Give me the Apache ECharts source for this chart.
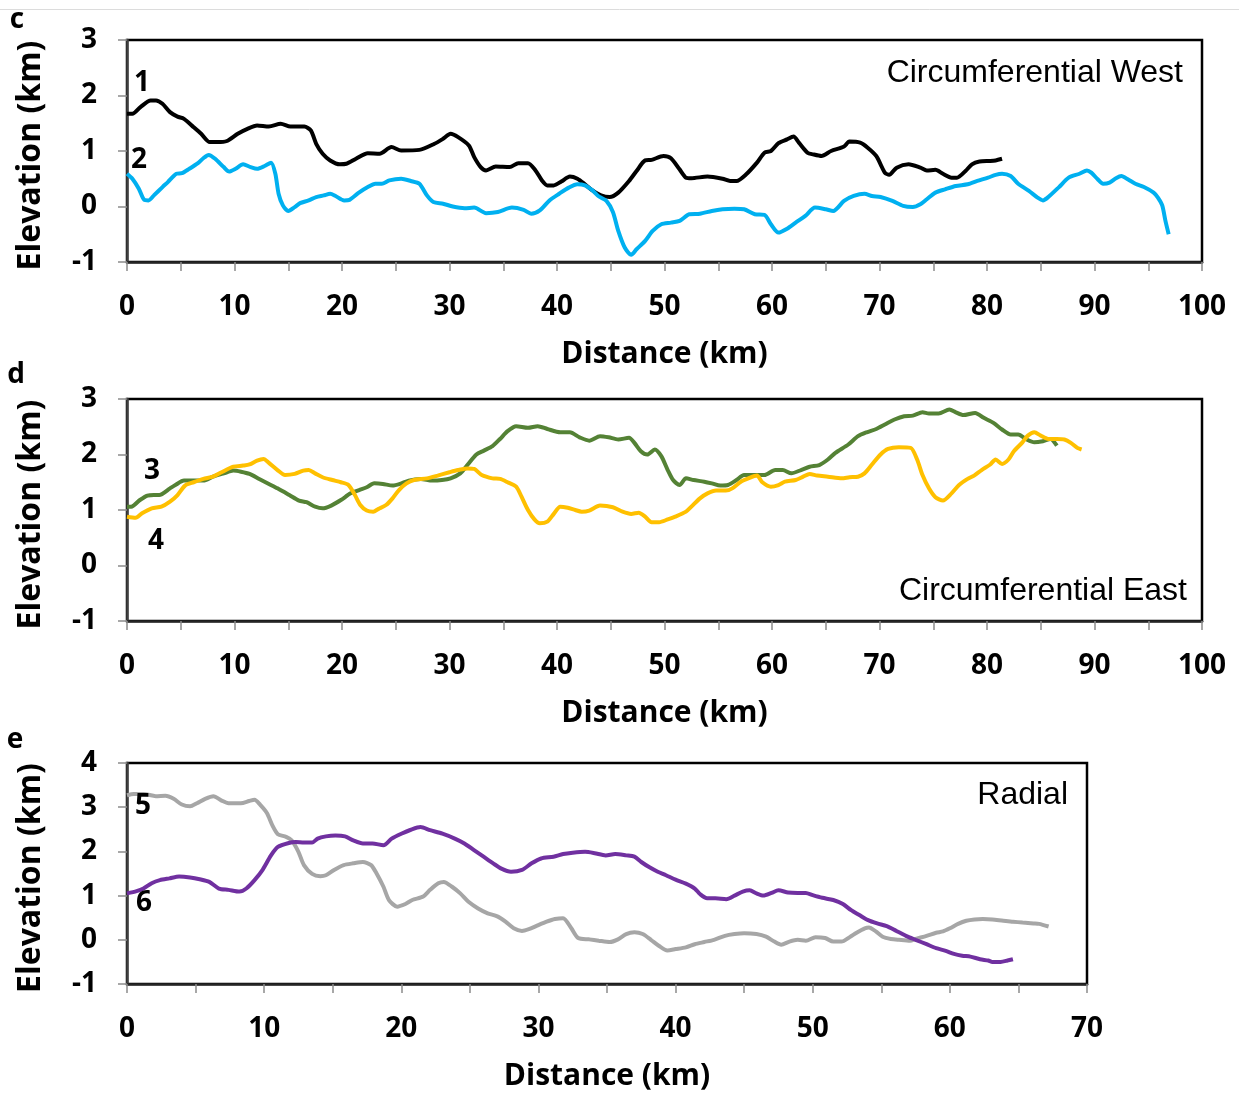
<!DOCTYPE html>
<html>
<head>
<meta charset="utf-8">
<script src="https://cdn.jsdelivr.net/npm/echarts@6/dist/echarts.min.js"></script>
<style>
  html, body { margin: 0; padding: 0; background: #fff; }
  #profiles { width: 1239px; height: 1096px; }
</style>
</head>
<body>
<div id="profiles"></div>
<script>
// distance (km), elevation (km)
var profile1 = [[0,1.67],[0.5,1.67],[1.25,1.79],[2.2,1.91],[2.7,1.91],[3.3,1.85],[4.0,1.70],[4.7,1.62],[5.3,1.58],[6.2,1.43],[6.9,1.31],[7.7,1.16],[8.4,1.16],[9.3,1.18],[10.3,1.31],[11.2,1.40],[12.1,1.46],[13.2,1.44],[14.3,1.49],[15.2,1.44],[16.5,1.44],[17.1,1.37],[17.6,1.13],[18.2,0.95],[18.9,0.83],[19.8,0.76],[20.4,0.77],[21.3,0.86],[22.4,0.96],[23.5,0.95],[24.6,1.07],[25.5,1.01],[27.2,1.02],[28.6,1.13],[29.4,1.22],[30.1,1.31],[30.8,1.25],[31.8,1.10],[32.3,0.89],[32.9,0.71],[33.4,0.65],[34.3,0.72],[35.6,0.71],[36.4,0.78],[37.3,0.78],[38.0,0.65],[38.6,0.47],[39.1,0.38],[39.7,0.38],[40.4,0.45],[41.2,0.54],[41.9,0.50],[42.6,0.40],[43.3,0.29],[44.1,0.20],[44.9,0.17],[45.7,0.25],[46.7,0.46],[47.4,0.64],[48.2,0.83],[48.8,0.84],[49.9,0.91],[50.6,0.87],[51.4,0.67],[52.0,0.52],[52.5,0.51],[54.0,0.54],[55.4,0.50],[56.1,0.46],[56.7,0.46],[57.6,0.58],[58.6,0.79],[59.3,0.97],[59.9,1.00],[60.6,1.14],[61.4,1.21],[62.0,1.26],[62.5,1.15],[63.3,0.97],[63.8,0.94],[64.6,0.91],[65.5,1.00],[66.7,1.08],[67.2,1.17],[68.2,1.15],[68.9,1.06],[69.7,0.91],[70.1,0.76],[70.5,0.61],[70.9,0.57],[71.6,0.70],[72.7,0.76],[73.8,0.70],[74.4,0.65],[75.2,0.66],[75.9,0.59],[76.7,0.52],[77.2,0.52],[78.0,0.64],[78.6,0.76],[79.3,0.81],[80.3,0.82],[80.8,0.83],[81.4,0.86]];

var profile2 = [[0,0.59],[0.5,0.50],[1.1,0.32],[1.6,0.12],[2.0,0.11],[2.5,0.20],[3.3,0.35],[3.8,0.44],[4.6,0.59],[5.1,0.60],[5.8,0.68],[6.6,0.78],[7.1,0.87],[7.6,0.93],[8.2,0.86],[9.0,0.71],[9.5,0.63],[10.1,0.68],[10.8,0.76],[11.5,0.71],[12.1,0.68],[12.8,0.73],[13.4,0.79],[13.8,0.59],[14.1,0.23],[14.5,0.02],[15.0,-0.08],[15.6,-0.01],[16.1,0.06],[16.9,0.11],[17.6,0.17],[18.3,0.20],[18.9,0.23],[19.4,0.19],[20.2,0.11],[20.7,0.12],[21.5,0.24],[22.4,0.35],[23.1,0.41],[23.7,0.41],[24.4,0.47],[25.5,0.50],[26.4,0.46],[27.2,0.41],[27.9,0.20],[28.5,0.08],[29.4,0.05],[30.3,0.00],[31.4,-0.03],[32.3,-0.02],[33.4,-0.12],[34.5,-0.10],[35.8,-0.02],[36.9,-0.06],[37.6,-0.13],[38.4,-0.07],[39.3,0.11],[40.2,0.23],[41.1,0.34],[41.9,0.40],[42.6,0.38],[43.3,0.29],[43.9,0.18],[44.6,0.10],[45.2,-0.10],[45.7,-0.44],[46.3,-0.74],[46.9,-0.87],[47.4,-0.77],[48.2,-0.62],[48.9,-0.44],[49.7,-0.32],[50.6,-0.29],[51.4,-0.26],[52.3,-0.14],[53.3,-0.13],[54.4,-0.08],[55.4,-0.05],[56.5,-0.04],[57.4,-0.05],[58.4,-0.14],[59.3,-0.15],[59.9,-0.32],[60.6,-0.47],[61.4,-0.40],[62.2,-0.29],[63.1,-0.17],[64.0,-0.02],[65.0,-0.05],[65.7,-0.08],[66.7,0.10],[67.6,0.19],[68.6,0.23],[69.3,0.19],[70.1,0.17],[71.2,0.10],[72.2,0.01],[73.1,-0.01],[73.8,0.04],[74.4,0.13],[75.2,0.25],[76.1,0.31],[77.1,0.37],[78.2,0.40],[79.1,0.46],[80.1,0.52],[80.8,0.57],[81.4,0.59],[82.2,0.55],[82.9,0.41],[83.9,0.28],[84.7,0.16],[85.2,0.11],[85.7,0.17],[86.7,0.35],[87.6,0.52],[88.6,0.59],[89.3,0.65],[89.7,0.61],[90.3,0.49],[90.8,0.41],[91.4,0.43],[92.0,0.51],[92.5,0.55],[93.1,0.49],[93.8,0.41],[94.6,0.35],[95.5,0.25],[95.9,0.16],[96.3,0.02],[96.6,-0.26],[96.9,-0.50]];

var profile3 = [[0,1.06],[0.4,1.06],[1.2,1.18],[1.9,1.26],[2.5,1.27],[3.0,1.27],[4.0,1.39],[4.5,1.45],[5.3,1.53],[6.2,1.53],[7.1,1.53],[8.0,1.60],[9.0,1.66],[9.9,1.71],[10.6,1.69],[11.4,1.65],[12.3,1.56],[13.2,1.47],[14.0,1.39],[15.1,1.27],[16.0,1.17],[16.7,1.14],[17.5,1.06],[18.2,1.03],[19.0,1.08],[19.9,1.18],[20.8,1.30],[21.6,1.36],[22.3,1.41],[23.0,1.48],[23.8,1.47],[24.7,1.44],[25.4,1.47],[26.2,1.53],[27.3,1.56],[28.4,1.53],[29.3,1.54],[30.1,1.57],[31.0,1.66],[31.7,1.82],[32.5,2.00],[33.2,2.07],[34.0,2.15],[34.7,2.28],[35.4,2.42],[36.2,2.51],[37.3,2.48],[38.2,2.51],[39.1,2.46],[40.3,2.40],[41.2,2.40],[42.1,2.31],[43.0,2.25],[44.0,2.33],[44.8,2.31],[45.7,2.27],[46.7,2.30],[47.2,2.21],[47.8,2.06],[48.4,2.00],[49.1,2.09],[49.7,1.97],[50.3,1.72],[50.8,1.54],[51.4,1.45],[52.0,1.57],[52.7,1.54],[53.7,1.51],[54.4,1.48],[55.2,1.44],[55.9,1.45],[56.7,1.54],[57.4,1.63],[58.4,1.63],[59.3,1.63],[60.3,1.72],[61.0,1.72],[61.8,1.66],[62.7,1.72],[63.5,1.78],[64.4,1.81],[65.2,1.91],[65.9,2.03],[67.1,2.18],[68.0,2.33],[68.8,2.40],[69.7,2.46],[70.5,2.54],[71.4,2.63],[72.3,2.69],[73.1,2.70],[74.0,2.76],[74.6,2.74],[75.5,2.74],[76.5,2.81],[77.1,2.76],[77.8,2.71],[78.9,2.75],[79.7,2.66],[80.6,2.57],[81.4,2.45],[82.2,2.36],[82.9,2.36],[83.7,2.27],[84.4,2.22],[85.2,2.24],[85.9,2.28],[86.5,2.16]];

var profile4 = [[0,0.88],[0.8,0.86],[1.4,0.94],[2.3,1.03],[3.2,1.06],[4.0,1.15],[4.7,1.27],[5.4,1.44],[6.2,1.50],[7.1,1.56],[8.0,1.60],[8.8,1.68],[9.9,1.78],[10.8,1.80],[11.4,1.82],[12.1,1.89],[12.7,1.92],[13.2,1.85],[14.0,1.72],[14.7,1.63],[15.6,1.65],[16.4,1.71],[16.9,1.72],[17.5,1.66],[18.2,1.59],[19.1,1.54],[19.9,1.50],[20.6,1.45],[21.2,1.27],[21.7,1.09],[22.3,0.99],[22.9,0.97],[23.4,1.02],[24.1,1.09],[24.7,1.21],[25.3,1.36],[26.0,1.48],[26.7,1.54],[27.9,1.57],[28.9,1.62],[30.0,1.68],[30.8,1.72],[31.7,1.75],[32.3,1.74],[33.0,1.63],[34.0,1.57],[34.7,1.56],[35.4,1.50],[36.2,1.42],[36.7,1.24],[37.3,1.00],[37.9,0.83],[38.4,0.76],[39.1,0.79],[39.7,0.93],[40.3,1.06],[41.0,1.04],[41.7,1.00],[42.3,0.97],[43.0,0.99],[44.0,1.08],[45.2,1.05],[46.1,0.97],[46.9,0.93],[47.6,0.95],[48.2,0.88],[48.8,0.78],[49.5,0.78],[50.3,0.83],[51.0,0.88],[52.0,0.97],[52.5,1.06],[53.3,1.21],[54.0,1.30],[54.8,1.35],[55.7,1.35],[56.3,1.39],[57.1,1.51],[57.8,1.57],[58.6,1.62],[59.1,1.50],[59.9,1.42],[60.6,1.45],[61.2,1.51],[62.2,1.54],[62.9,1.60],[63.5,1.65],[64.2,1.62],[65.2,1.60],[66.5,1.57],[67.2,1.59],[68.0,1.60],[68.6,1.66],[69.3,1.82],[70.1,2.00],[70.8,2.10],[71.8,2.13],[72.9,2.12],[73.5,1.91],[74.0,1.63],[74.6,1.39],[75.2,1.23],[75.9,1.17],[76.7,1.30],[77.4,1.45],[78.2,1.56],[78.8,1.62],[79.5,1.72],[80.3,1.82],[80.8,1.91],[81.4,1.83],[82.0,1.91],[82.5,2.06],[83.3,2.22],[83.8,2.34],[84.4,2.40],[85.0,2.34],[85.7,2.28],[86.5,2.28],[87.2,2.27],[87.8,2.21],[88.4,2.12],[88.8,2.09]];

var profile5 = [[0,3.27],[0.5,3.30],[1.2,3.30],[2.1,3.25],[2.8,3.26],[3.4,3.19],[4.0,3.06],[4.6,3.02],[5.1,3.09],[5.7,3.19],[6.3,3.25],[6.9,3.15],[7.4,3.09],[8.3,3.09],[8.9,3.14],[9.3,3.17],[9.7,3.06],[10.2,2.87],[10.6,2.59],[11.0,2.39],[11.6,2.33],[12.0,2.25],[12.5,1.99],[12.9,1.69],[13.5,1.49],[14.1,1.44],[14.5,1.46],[15.1,1.58],[15.8,1.69],[16.5,1.73],[17.2,1.76],[17.8,1.69],[18.2,1.50],[18.7,1.20],[19.1,0.90],[19.7,0.75],[20.3,0.81],[20.8,0.90],[21.6,0.98],[22.1,1.13],[22.7,1.28],[23.1,1.31],[23.7,1.20],[24.3,1.05],[24.9,0.86],[25.6,0.71],[26.3,0.60],[27.0,0.53],[27.6,0.41],[28.2,0.26],[28.8,0.20],[29.3,0.24],[29.9,0.32],[30.6,0.41],[31.2,0.47],[31.8,0.49],[32.4,0.26],[32.9,0.04],[33.7,0.01],[34.4,-0.02],[35.2,-0.05],[35.8,0.01],[36.4,0.13],[37.0,0.17],[37.6,0.13],[38.2,0.00],[38.8,-0.14],[39.4,-0.24],[40.0,-0.21],[40.75,-0.17],[41.4,-0.10],[42.1,-0.05],[42.8,0.00],[43.6,0.09],[44.3,0.13],[45.0,0.15],[45.9,0.13],[46.6,0.07],[47.2,-0.04],[47.7,-0.11],[48.3,-0.04],[48.9,0.00],[49.5,-0.02],[50.2,0.06],[50.9,0.04],[51.5,-0.04],[52.1,-0.04],[52.7,0.06],[53.2,0.16],[53.8,0.26],[54.1,0.28],[54.6,0.19],[55.1,0.07],[55.7,0.02],[56.3,0.00],[57.1,-0.02],[57.5,0.02],[58.3,0.09],[59.0,0.16],[59.5,0.19],[60.0,0.26],[60.6,0.36],[61.2,0.43],[61.8,0.46],[62.4,0.47],[63.1,0.46],[63.9,0.43],[64.6,0.41],[65.3,0.39],[66.1,0.37],[66.5,0.36],[67.2,0.30]];

var profile6 = [[0,1.05],[0.7,1.10],[1.2,1.16],[1.8,1.28],[2.4,1.35],[3.1,1.39],[3.8,1.43],[4.6,1.41],[5.3,1.37],[6.0,1.31],[6.7,1.16],[7.4,1.13],[8.2,1.09],[8.7,1.16],[9.3,1.35],[9.9,1.59],[10.5,1.91],[11.0,2.10],[11.8,2.19],[12.3,2.21],[12.9,2.20],[13.5,2.20],[13.9,2.29],[14.5,2.34],[15.2,2.36],[15.9,2.34],[16.5,2.25],[17.2,2.18],[17.9,2.18],[18.7,2.14],[19.3,2.29],[20.0,2.40],[20.7,2.49],[21.4,2.55],[22.1,2.48],[23.0,2.40],[23.9,2.29],[24.6,2.18],[25.3,2.03],[26.0,1.88],[26.7,1.73],[27.3,1.61],[28.0,1.54],[28.8,1.58],[29.5,1.73],[30.2,1.84],[31.1,1.88],[31.8,1.94],[32.5,1.97],[33.4,1.99],[34.1,1.96],[34.9,1.91],[35.6,1.94],[36.4,1.91],[37.0,1.88],[37.5,1.76],[38.1,1.64],[38.7,1.54],[39.3,1.46],[40.0,1.36],[40.75,1.27],[41.4,1.16],[41.8,1.03],[42.3,0.94],[42.9,0.94],[43.7,0.92],[44.3,1.00],[44.9,1.09],[45.4,1.12],[45.9,1.05],[46.4,1.00],[47.0,1.06],[47.5,1.12],[48.2,1.07],[48.9,1.06],[49.5,1.06],[50.0,1.01],[50.7,0.95],[51.5,0.90],[52.2,0.81],[52.8,0.67],[53.4,0.56],[54.0,0.45],[54.7,0.37],[55.4,0.31],[56.1,0.20],[56.8,0.09],[57.5,0.00],[58.3,-0.10],[59.0,-0.19],[59.7,-0.25],[60.3,-0.32],[60.9,-0.36],[61.5,-0.38],[62.2,-0.44],[62.8,-0.47],[63.1,-0.50],[63.7,-0.50],[64.2,-0.47],[64.6,-0.44]];

// axis ranges per panel (c, d, e)
var distMax = [100, 100, 70];
var elevMin = [-1, -1, -1];
var elevMax = [3, 3, 4];
var panelTitles = ['Circumferential West', 'Circumferential East', 'Radial'];

var tickFont = 'Open Sans';
var tickGray = '#8c8c8c';

function distAxis(i) {
	return {
		gridIndex: i, type: 'value', min: 0, max: distMax[i], interval: 10,
		name: 'Distance (km)', nameLocation: 'middle', nameGap: 77,
		nameTextStyle: { fontFamily: tickFont, fontWeight: 'bold', fontSize: 30, color: '#000' },
		axisLine: { onZero: false, lineStyle: { color: '#262626', width: 2.5 } },
		axisTick: { show: true, length: 9, lineStyle: { color: tickGray, width: 1.5 } },
		minorTick: { show: true, splitNumber: 2, length: 9, lineStyle: { color: tickGray, width: 1.5 } },
		axisLabel: { margin: 31, fontFamily: tickFont, fontWeight: 'bold', fontSize: 28, color: '#000' },
		splitLine: { show: false }
	};
}

function elevAxis(i) {
	return {
		gridIndex: i, type: 'value', min: elevMin[i], max: elevMax[i], interval: 1,
		name: 'Elevation (km)', nameLocation: 'middle', nameGap: 80,
		// right padding nudges the rotated title a little downwards
		nameTextStyle: { fontFamily: tickFont, fontWeight: 'bold', fontSize: 32, color: '#000', padding: [0, 9, 0, 0] },
		axisLine: { show: true, onZero: false, lineStyle: { color: '#404040', width: 2.5 } },
		axisTick: { show: true, length: 9, lineStyle: { color: tickGray, width: 1.5 } },
		axisLabel: { margin: 30, fontFamily: tickFont, fontWeight: 'bold', fontSize: 28, color: '#000' },
		splitLine: { show: false }
	};
}

function profileLine(name, data, color, i) {
	return {
		name: name, type: 'line', xAxisIndex: i, yAxisIndex: i,
		data: data, showSymbol: false, smooth: 0.25,
		lineStyle: { color: color, width: 4 },
		animation: false, z: 3
	};
}

function label(text, x, y, size, bold, align) {
	return {
		type: 'text', x: x, y: y, z: 10,
		style: {
			text: text, fill: '#000',
			font: (bold ? 'bold ' : '') + size + 'px ' + (bold ? '"Open Sans"' : '"Liberation Sans"'),
			align: align || 'center', verticalAlign: 'middle'
		}
	};
}

var chart = echarts.init(document.getElementById('profiles'));

var option = {
	animation: false,
	backgroundColor: '#fff',
	grid: [
		{ left: 127, top: 40, width: 1075, height: 222, show: true, borderColor: '#000', borderWidth: 2.5 },
		{ left: 127, top: 399, width: 1075, height: 222, show: true, borderColor: '#000', borderWidth: 2.5 },
		{ left: 127, top: 763, width: 960, height: 221, show: true, borderColor: '#000', borderWidth: 2.5 }
	],
	xAxis: [distAxis(0), distAxis(1), distAxis(2)],
	yAxis: [elevAxis(0), elevAxis(1), elevAxis(2)],
	series: [
		profileLine('1', profile1, '#000000', 0),
		profileLine('2', profile2, '#00b0f0', 0),
		profileLine('3', profile3, '#548235', 1),
		profileLine('4', profile4, '#ffc000', 1),
		profileLine('5', profile5, '#a6a6a6', 2),
		profileLine('6', profile6, '#7030a0', 2)
	],
	graphic: [
		{ type: 'line', shape: { x1: 0, y1: 9.5, x2: 1239, y2: 9.5 }, style: { stroke: '#dcdcdc', lineWidth: 1 } },
		label('c', 17, 20, 28, true),
		label('d', 16, 375, 28, true),
		label('e', 15, 740, 28, true),
		label('1', 142, 83, 28, true),
		label('2', 139, 160, 28, true),
		label('3', 152, 471, 28, true),
		label('4', 156, 541, 28, true),
		label('5', 143, 806, 28, true),
		label('6', 144, 903, 28, true),
		label(panelTitles[0], 1183, 73, 32, false, 'right'),
		label(panelTitles[1], 1187, 591, 32, false, 'right'),
		label(panelTitles[2], 1068, 795, 32, false, 'right')
	]
};

chart.setOption(option);
</script>
</body>
</html>
